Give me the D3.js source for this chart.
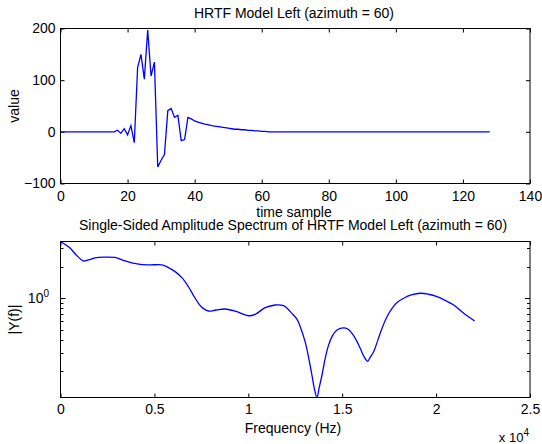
<!DOCTYPE html>
<html>
<head>
<meta charset="utf-8">
<script src="https://cdn.jsdelivr.net/npm/d3@7"></script>
<style>
  body { margin: 0; background: #fff; }
  text { font-family: "Liberation Sans", Arial, sans-serif; fill: #000; }
</style>
</head>
<body>
<div id="chart"></div>
<script>
// impulse response, one value per sample (0..128)
var samples = [
  0, 0, 0, 0, 0, 0, 0, 0, 0, 0, 0, 0, 0, 0, 0, 0, 0,
  3, -3, 6, -6, 12, -21, 125, 150, 102, 197, 108, 135, -68,
  -55, -44, 41, 45, 28, 32, -17, -15, 28, 25,
  21, 19, 17, 15, 14, 12, 11, 10, 9, 8,
  7, 6, 5, 5, 4, 4, 3, 3, 2, 2,
  1, 1, 0, 0, 0, 0, 0, 0, 0, 0,
  0, 0, 0, 0, 0, 0, 0, 0, 0, 0,
  0, 0, 0, 0, 0, 0, 0, 0, 0, 0,
  0, 0, 0, 0, 0, 0, 0, 0, 0, 0,
  0, 0, 0, 0, 0, 0, 0, 0, 0, 0,
  0, 0, 0, 0, 0, 0, 0, 0, 0, 0,
  0, 0, 0, 0, 0, 0, 0, 0, 0
];

// single-sided spectrum
var freqs = [0, 506, 826, 1215, 1482, 1840, 2281, 2905, 3438, 4147, 4770, 5394, 5730, 6103,
  6476, 6812, 7062, 7345, 7595, 7878, 8288, 8768, 9392, 10010, 10367, 10900, 11433,
  11876, 12323, 12590, 12766, 13032, 13218, 13389, 13538, 13655, 13778, 13922, 14098,
  14274, 14471, 14722, 15074, 15298, 15522, 15750, 15964, 16177, 16353, 16497, 16673,
  16897, 17121, 17377, 17654, 17936, 18272, 18683, 19163, 19590, 20053, 20496, 20938,
  21471, 22050];
var mags = [3.50, 3.03, 2.61, 2.28, 2.33, 2.44, 2.48, 2.46, 2.28, 2.12, 2.09, 2.09, 1.98, 1.80,
  1.57, 1.29, 1.08, 0.895, 0.80, 0.755, 0.772, 0.789, 0.743, 0.680, 0.702, 0.812, 0.862,
  0.849, 0.717, 0.632, 0.533, 0.380, 0.267, 0.183, 0.131, 0.112, 0.140, 0.183, 0.267,
  0.356, 0.434, 0.496, 0.521, 0.507, 0.461, 0.397, 0.330, 0.273, 0.249, 0.273, 0.307,
  0.397, 0.515, 0.661, 0.801, 0.915, 1.0, 1.076, 1.117, 1.093, 1.036, 0.952, 0.862,
  0.717, 0.605];

var topXTicks = [0, 20, 40, 60, 80, 100, 120, 140];
var topYTicks = [-100, 0, 100, 200];
var botXTicks = [0, 0.5, 1, 1.5, 2, 2.5];
var botYMinor = [0.2, 0.3, 0.4, 0.5, 0.6, 0.7, 0.8, 0.9, 2, 3];

var svgWidth = 542, svgHeight = 444;
var left = 60.5, right = 530;
var top1 = 28.5, bot1 = 183.5;
var top2 = 241.5, bot2 = 397.5;

var svg = d3.select("#chart").append("svg")
  .attr("width", svgWidth)
  .attr("height", svgHeight);

// ---------- top plot ----------
var x1 = d3.scaleLinear().domain([0, 140]).range([left, right]);
var y1 = d3.scaleLinear().domain([-100, 200]).range([bot1, top1]);

svg.append("g")
  .attr("transform", `translate(0, ${bot1})`)
  .call(d3.axisBottom(x1).tickValues(topXTicks).tickSize(-4).tickPadding(8))
  .call(g => g.select(".domain").remove())
  .selectAll("text").attr("font-size", "14px").attr("font-family", "Liberation Sans, Arial");
svg.append("g")
  .attr("transform", `translate(0, ${top1})`)
  .call(d3.axisTop(x1).tickValues(topXTicks).tickSize(-4).tickFormat(""))
  .call(g => g.select(".domain").remove());
svg.append("g")
  .attr("transform", `translate(${left}, 0)`)
  .call(d3.axisLeft(y1).tickValues(topYTicks).tickSize(-4).tickPadding(5))
  .call(g => g.select(".domain").remove())
  .selectAll("text").attr("font-size", "14px").attr("font-family", "Liberation Sans, Arial");
svg.append("g")
  .attr("transform", `translate(${right}, 0)`)
  .call(d3.axisRight(y1).tickValues(topYTicks).tickSize(-4).tickFormat(""))
  .call(g => g.select(".domain").remove());

svg.append("path")
  .datum(samples)
  .attr("fill", "none")
  .attr("stroke", "#0000ff")
  .attr("stroke-width", 1.3)
  .attr("d", d3.line().x((d, i) => x1(i)).y(d => y1(d)));

svg.append("rect")
  .attr("x", left).attr("y", top1)
  .attr("width", right - left).attr("height", bot1 - top1)
  .attr("fill", "none").attr("stroke", "#000");

svg.append("text")
  .attr("x", 294).attr("y", 18)
  .attr("text-anchor", "middle").attr("font-size", "14px")
  .text("HRTF Model Left (azimuth = 60)");
svg.append("text")
  .attr("x", 294).attr("y", 217)
  .attr("text-anchor", "middle").attr("font-size", "14px")
  .text("time sample");
svg.append("text")
  .attr("transform", `translate(19, ${(top1 + bot1) / 2}) rotate(-90)`)
  .attr("text-anchor", "middle").attr("font-size", "14px")
  .text("value");

// ---------- bottom plot ----------
var x2 = d3.scaleLinear().domain([0, 25000]).range([left, right]);
var y2 = d3.scaleLog().domain([0.112, 3.5]).range([bot2, top2]);

svg.append("g")
  .attr("transform", `translate(0, ${bot2})`)
  .call(d3.axisBottom(x2).tickValues(botXTicks.map(d => d * 1e4)).tickSize(-4).tickPadding(7)
    .tickFormat(d => d3.format("")(d / 1e4)))
  .call(g => g.select(".domain").remove())
  .selectAll("text").attr("font-size", "14px").attr("font-family", "Liberation Sans, Arial");
svg.append("g")
  .attr("transform", `translate(0, ${top2})`)
  .call(d3.axisTop(x2).tickValues(botXTicks.map(d => d * 1e4)).tickSize(-4).tickFormat(""))
  .call(g => g.select(".domain").remove());

// log y: major at 1, minor elsewhere
[[left, 1], [right, -1]].forEach(function(side) {
  var g = svg.append("g");
  g.selectAll("line.minor")
    .data(botYMinor)
    .enter().append("line")
    .attr("x1", side[0]).attr("x2", side[0] + side[1] * 3)
    .attr("y1", d => Math.round(y2(d)) + 0.5).attr("y2", d => Math.round(y2(d)) + 0.5)
    .attr("stroke", "#000");
  g.append("line")
    .attr("x1", side[0]).attr("x2", side[0] + side[1] * 5)
    .attr("y1", Math.round(y2(1)) + 0.5).attr("y2", Math.round(y2(1)) + 0.5)
    .attr("stroke", "#000");
});

var majorLabel = svg.append("text")
  .attr("x", 49).attr("y", y2(1) + 5)
  .attr("text-anchor", "end").attr("font-size", "14px");
majorLabel.append("tspan").text("10");
majorLabel.append("tspan").attr("dy", -6).attr("font-size", "10px").text("0");

svg.append("path")
  .datum(d3.zip(freqs, mags))
  .attr("fill", "none")
  .attr("stroke", "#0000ff")
  .attr("stroke-width", 1.3)
  .attr("d", d3.line().x(d => x2(d[0])).y(d => y2(d[1])).curve(d3.curveCatmullRom.alpha(0.5)));

svg.append("rect")
  .attr("x", left).attr("y", top2)
  .attr("width", right - left).attr("height", bot2 - top2)
  .attr("fill", "none").attr("stroke", "#000");

svg.append("text")
  .attr("x", 293).attr("y", 230)
  .attr("text-anchor", "middle").attr("font-size", "14px")
  .text("Single-Sided Amplitude Spectrum of HRTF Model Left (azimuth = 60)");
svg.append("text")
  .attr("x", 293).attr("y", 433)
  .attr("text-anchor", "middle").attr("font-size", "14px")
  .text("Frequency (Hz)");
svg.append("text")
  .attr("transform", `translate(19, ${(top2 + bot2) / 2}) rotate(-90)`)
  .attr("text-anchor", "middle").attr("font-size", "14px")
  .text("|Y(f)|");

var expLabel = svg.append("text")
  .attr("x", 529).attr("y", 442)
  .attr("text-anchor", "end").attr("font-size", "13px");
expLabel.append("tspan").text("x 10");
expLabel.append("tspan").attr("dy", -6).attr("font-size", "10px").text("4");
</script>
</body>
</html>
